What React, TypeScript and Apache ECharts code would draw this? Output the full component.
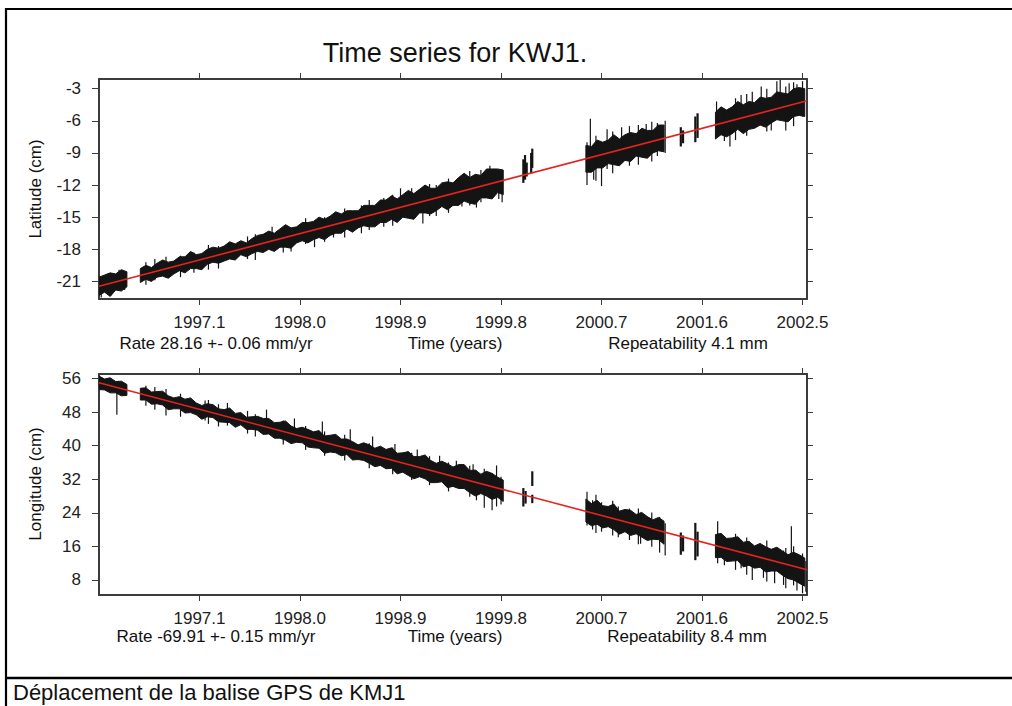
import React, { useEffect, useRef } from "react";
import * as echarts from "echarts";

const FONT = "'Liberation Sans', Arial, Helvetica, sans-serif";

// ---- axes ----
const timeMin = 1996.2;
const timeMax = 2002.54;
const timeTicks = [1997.1, 1998.0, 1998.9, 1999.8, 2000.7, 2001.6, 2002.5];
const latMin = -22.64;
const latMax = -2.1;
const latTicks = [-21, -18, -15, -12, -9, -6, -3];
const lonMin = 4.4;
const lonMax = 57.1;
const lonTicks = [8, 16, 24, 32, 40, 48, 56];

// ---- texts ----
const titleText = "Time series for KWJ1.";
const latRateText = "Rate 28.16 +- 0.06 mm/yr";
const latRepText = "Repeatability 4.1 mm";
const lonRateText = "Rate -69.91 +- 0.15 mm/yr";
const lonRepText = "Repeatability 8.4 mm";
const timeLabel = "Time (years)";
const captionText = "Déplacement de la balise GPS de KMJ1";

// ---- envelopes of the daily solutions (one sample each 0.05 yr) ----
const sampleStep = 0.05;

// Latitude (cm)
const latS1Start = 1996.2;
const latS1Lo = [-22.3, -22.0, -22.4, -21.8, -21.9, -21.5];
const latS1Hi = [-20.6, -20.4, -20.2, -20.3, -19.9, -20.1];
const latS2Start = 1996.57;
const latS2Hi = [
  -19.8, -19.5, -19.7, -19.3, -19.0, -19.2, -19.1, -18.7, -18.7, -18.2,
  -18.5, -18.4, -18.0, -17.8, -17.9, -17.7, -17.3, -17.5, -17.2, -17.4,
  -17.0, -16.7, -16.6, -16.3, -16.5, -16.1, -15.7, -16.0, -15.9, -15.5,
  -15.5, -15.4, -15.0, -15.2, -14.9, -14.5, -14.7, -14.4, -14.4, -14.4,
  -13.9, -13.9, -13.9, -13.4, -13.4, -13.0, -13.3, -12.9, -12.5, -12.8,
  -12.4, -12.0, -12.3, -12.3, -11.8, -11.7, -11.8, -11.3, -10.9, -11.3,
  -11.0, -11.1, -10.5, -10.5, -10.5, -10.6,
];
const latS2Lo = [
  -21.1, -20.8, -21.0, -20.6, -20.5, -20.7, -20.3, -20.0, -20.2, -19.8,
  -19.8, -19.9, -19.4, -19.2, -19.3, -19.1, -18.9, -19.0, -18.5, -18.7,
  -18.4, -18.2, -18.3, -18.0, -18.2, -17.8, -17.8, -17.9, -17.4, -17.2,
  -17.4, -17.1, -16.9, -17.1, -16.7, -16.5, -16.5, -16.1, -16.4, -16.0,
  -15.8, -15.9, -15.9, -15.5, -15.5, -15.2, -15.5, -15.0, -15.1, -15.2,
  -14.6, -14.6, -14.7, -14.4, -14.0, -14.3, -13.9, -13.9, -13.5, -13.7,
  -13.8, -13.2, -13.2, -13.3, -12.7, -12.9,
];
const latS3Start = 2000.56;
const latS3Hi = [-8.3, -8.4, -7.8, -8.0, -7.8, -7.3, -7.7, -7.3, -7.1, -7.2, -6.7, -6.9, -6.9, -6.4, -6.4];
const latS3Lo = [-10.8, -10.8, -10.4, -10.4, -10.0, -10.1, -10.2, -9.7, -9.8, -9.3, -9.4, -9.5, -9.0, -8.8, -8.9];
const latS4Start = 2001.72;
const latS4Hi = [-5.2, -4.7, -5.0, -4.7, -4.2, -4.5, -4.2, -4.3, -3.8, -3.9, -3.8, -3.3, -3.4, -3.5, -3.0, -2.9, -3.0];
const latS4Lo = [-7.7, -7.3, -7.5, -7.2, -6.8, -7.2, -6.8, -6.7, -6.4, -6.6, -6.2, -5.9, -6.0, -6.1, -5.6, -5.5, -5.6];

// outlying daily solutions [time, low, high]
const latSpikeT = [
  1996.22, 1996.31, 1996.38, 1996.43, 1996.62, 1996.7, 1996.8, 1996.93, 1997.05, 1997.18,
  1997.27, 1997.4, 1997.53, 1997.6, 1997.75, 1997.85, 1997.92, 1998.05, 1998.13, 1998.22,
  1998.3, 1998.4, 1998.55, 1998.62, 1998.75, 1998.83, 1998.9, 1999.0, 1999.1, 1999.16,
  1999.22, 1999.33, 1999.45, 1999.52, 1999.58, 1999.62, 1999.7, 1999.78, 1999.81, 2000.57,
  2000.6, 2000.63, 2000.65, 2000.7, 2000.75, 2000.8, 2000.88, 2000.95, 2001.03, 2001.1,
  2001.15, 2001.2, 2001.27, 2001.73, 2001.8, 2001.85, 2001.9, 2001.95, 2002.0, 2002.05,
  2002.13, 2002.18, 2002.22, 2002.27, 2002.3, 2002.35, 2002.38, 2002.42, 2002.45, 2002.5,
];
const latSpikeLo = [
  -22.5, -22.3, -21.6, -21.8, -21.3, -20.9, -20.6, -20.6, -20.2, -19.9,
  -19.8, -19.0, -18.9, -19.0, -18.0, -18.3, -18.2, -17.5, -17.8, -17.3,
  -16.9, -16.9, -16.5, -16.2, -15.9, -15.8, -14.9, -15.1, -15.6, -14.9,
  -14.9, -14.6, -14.0, -13.9, -14.1, -13.6, -13.0, -13.3, -13.6, -12.0,
  -10.8, -11.5, -11.6, -12.1, -10.5, -10.9, -9.5, -10.2, -10.1, -9.0,
  -9.8, -9.3, -9.0, -7.5, -7.9, -8.4, -7.8, -6.9, -7.4, -6.5,
  -5.8, -7.0, -6.9, -5.5, -5.2, -6.9, -5.7, -6.5, -5.0, -5.6,
];
const latSpikeHi = [
  -21.0, -20.5, -19.9, -20.6, -19.2, -18.9, -18.7, -18.6, -18.3, -17.6,
  -17.7, -17.4, -16.8, -16.6, -15.9, -16.0, -16.4, -15.1, -15.7, -15.0,
  -14.8, -14.2, -13.9, -13.4, -13.2, -12.9, -12.3, -12.3, -12.8, -11.9,
  -12.0, -11.4, -11.5, -10.7, -11.1, -10.6, -10.2, -10.6, -11.0, -8.0,
  -5.8, -9.0, -7.4, -9.5, -6.8, -7.0, -6.6, -6.5, -6.4, -6.3,
  -6.1, -6.2, -6.0, -4.2, -5.0, -5.5, -3.9, -3.6, -3.5, -3.3,
  -2.8, -3.0, -3.9, -2.3, -2.2, -2.8, -2.5, -2.4, -2.6, -2.3,
];
const latShortT = [2000.0, 2000.015, 2000.03, 2000.07, 2000.08, 2001.41, 2001.43, 2001.54, 2001.56];
const latShortLo = [-11.8, -11.5, -11.2, -10.9, -10.4, -8.4, -8.1, -8.0, -7.6];
const latShortHi = [-9.6, -9.2, -9.9, -9.0, -8.6, -6.6, -6.9, -5.6, -5.3];

const latFitT = [1996.2, 2002.54];
const latFitV = [-21.45, -4.14];

// Longitude (cm)
const lonS1Start = 1996.2;
const lonS1Hi = [56.6, 55.9, 56.2, 55.3, 55.4, 54.6];
const lonS1Lo = [53.4, 53.3, 52.6, 52.6, 51.9, 52.0];
const lonS2Start = 1996.57;
const lonS2Hi = [
  53.7, 53.8, 52.8, 52.9, 53.0, 51.9, 51.4, 51.7, 51.1, 51.4,
  50.2, 49.6, 50.0, 49.8, 48.8, 48.6, 49.0, 47.7, 47.9, 46.8,
  46.9, 47.0, 46.5, 46.5, 45.5, 45.6, 45.9, 44.7, 44.1, 44.4,
  43.9, 43.3, 43.6, 42.3, 42.5, 42.7, 41.6, 41.6, 41.0, 40.2,
  40.7, 40.2, 39.4, 39.9, 39.1, 39.5, 38.2, 38.3, 38.6, 37.4,
  37.4, 37.8, 36.5, 35.8, 36.3, 35.7, 34.9, 35.5, 35.5, 34.1,
  34.2, 33.2, 33.9, 33.4, 32.5, 31.8,
];
const lonS2Lo = [
  50.9, 50.9, 49.9, 50.0, 49.7, 48.6, 48.8, 48.8, 47.8, 47.9,
  47.4, 46.3, 46.9, 46.7, 45.7, 45.6, 45.5, 44.4, 45.0, 43.9,
  43.9, 43.7, 42.7, 42.8, 41.8, 41.8, 41.3, 40.5, 40.8, 40.7,
  39.7, 39.5, 39.4, 38.2, 38.5, 38.3, 37.6, 37.9, 36.6, 36.7,
  36.5, 35.8, 35.0, 35.3, 34.5, 34.6, 33.3, 33.7, 32.9, 32.1,
  32.6, 32.1, 31.2, 31.2, 31.4, 30.0, 30.3, 29.8, 29.8, 28.8,
  28.0, 28.6, 28.0, 27.2, 27.7, 26.7,
];
const lonS3Start = 2000.56;
const lonS3Hi = [27.3, 26.2, 27.0, 25.7, 25.5, 26.1, 24.4, 24.8, 24.6, 23.6, 24.1, 23.1, 22.3, 22.9, 22.0];
const lonS3Lo = [21.8, 20.9, 21.3, 20.4, 20.7, 20.0, 18.9, 19.5, 18.6, 19.0, 18.2, 17.4, 17.7, 17.6, 16.5];
const lonS4Start = 2001.72;
const lonS4Hi = [18.8, 19.1, 17.9, 18.0, 18.3, 17.0, 17.2, 16.1, 16.7, 15.9, 15.3, 15.8, 14.9, 14.0, 14.6, 14.0, 13.2];
const lonS4Lo = [13.3, 13.4, 12.4, 12.5, 12.6, 11.1, 11.5, 10.8, 11.0, 9.9, 10.1, 10.1, 9.1, 8.3, 8.0, 7.2, 6.5];

const lonSpikeT = [
  1996.36, 1996.62, 1996.7, 1996.8, 1996.93, 1997.15, 1997.18, 1997.27, 1997.35, 1997.53,
  1997.6, 1997.7, 1997.85, 1997.95, 1998.05, 1998.2, 1998.22, 1998.4, 1998.45, 1998.62,
  1998.65, 1998.83, 1998.85, 1999.0, 1999.05, 1999.16, 1999.25, 1999.33, 1999.4, 1999.52,
  1999.55, 1999.58, 1999.65, 1999.72, 1999.76, 1999.8, 2000.57, 2000.62, 2000.65, 2000.7,
  2000.8, 2000.85, 2000.95, 2001.03, 2001.05, 2001.15, 2001.22, 2001.27, 2001.74, 2001.8,
  2001.9, 2001.95, 2002.0, 2002.05, 2002.15, 2002.18, 2002.25, 2002.33, 2002.35, 2002.4,
  2002.42, 2002.45, 2002.5, 2002.53,
];
const lonSpikeLo = [
  47.4, 49.5, 48.6, 47.2, 46.9, 46.0, 45.2, 44.6, 44.8, 42.9,
  42.2, 43.0, 40.3, 41.2, 39.0, 40.0, 37.6, 36.5, 37.5, 34.6,
  37.8, 33.2, 34.5, 31.8, 33.5, 30.6, 32.0, 29.1, 30.6, 27.8,
  29.2, 27.0, 25.2, 24.6, 25.5, 26.0, 21.0, 20.0, 19.2, 19.5,
  18.6, 18.2, 17.5, 16.5, 16.6, 15.9, 14.5, 13.8, 12.0, 11.5,
  10.4, 10.8, 9.2, 8.0, 8.5, 7.6, 7.2, 6.8, 6.0, 9.0,
  6.7, 5.5, 4.8, 5.2,
];
const lonSpikeHi = [
  53.0, 54.3, 54.0, 53.5, 52.4, 50.8, 50.9, 49.9, 50.2, 48.3,
  47.5, 48.6, 46.0, 46.5, 44.7, 45.8, 43.4, 42.6, 43.9, 40.6,
  42.2, 39.6, 40.4, 38.3, 39.1, 37.5, 37.6, 36.0, 36.4, 35.2,
  35.6, 34.1, 34.5, 33.5, 35.3, 32.6, 29.0, 27.0, 28.3, 26.5,
  26.9, 25.5, 25.0, 25.0, 24.0, 24.1, 23.0, 21.5, 22.0, 17.5,
  19.0, 17.0, 18.1, 15.5, 16.2, 17.4, 14.5, 15.0, 15.6, 20.8,
  16.0, 13.5, 14.3, 12.5,
];
const lonShortT = [2000.0, 2000.02, 2000.08, 2000.08, 2001.41, 2001.43, 2001.54, 2001.56];
const lonShortLo = [25.5, 26.2, 26.3, 30.4, 14.0, 14.8, 12.7, 13.6];
const lonShortHi = [29.9, 29.2, 28.3, 33.9, 19.3, 18.6, 21.6, 19.5];

const lonFitT = [1996.2, 2002.54];
const lonFitV = [55.0, 10.43];

type Seg = { start: number; lo: number[]; hi: number[] };

const latSegs: Seg[] = [
  { start: latS1Start, lo: latS1Lo, hi: latS1Hi },
  { start: latS2Start, lo: latS2Lo, hi: latS2Hi },
  { start: latS3Start, lo: latS3Lo, hi: latS3Hi },
  { start: latS4Start, lo: latS4Lo, hi: latS4Hi },
];
const lonSegs: Seg[] = [
  { start: lonS1Start, lo: lonS1Lo, hi: lonS1Hi },
  { start: lonS2Start, lo: lonS2Lo, hi: lonS2Hi },
  { start: lonS3Start, lo: lonS3Lo, hi: lonS3Hi },
  { start: lonS4Start, lo: lonS4Lo, hi: lonS4Hi },
];

const BAND = "#141414";
const FIT = "#e3231f";
const AXIS = "#3c3c3c";

function bandSeries(segs: Seg[], idx: number) {
  return {
    type: "custom",
    xAxisIndex: idx * 2,
    yAxisIndex: idx * 2,
    silent: true,
    clip: true,
    z: 2,
    data: segs.map((s, i) => [s.start, s.lo[0], i]),
    encode: { x: 0, y: 1 },
    renderItem: (_p: any, api: any) => {
      const s = segs[api.value(2)];
      const top = s.hi.map((v, k) => api.coord([s.start + k * sampleStep, v]));
      const bot = s.lo.map((v, k) => api.coord([s.start + k * sampleStep, v])).reverse();
      return {
        type: "polygon",
        shape: { points: top.concat(bot) },
        style: { fill: BAND, stroke: BAND, lineWidth: 1 },
      };
    },
  };
}

function barSeries(t: number[], lo: number[], hi: number[], idx: number, width: number) {
  return {
    type: "custom",
    xAxisIndex: idx * 2,
    yAxisIndex: idx * 2,
    silent: true,
    clip: true,
    z: 3,
    data: t.map((v, i) => [v, lo[i], hi[i]]),
    encode: { x: 0, y: [1, 2] },
    renderItem: (_p: any, api: any) => {
      const a = api.coord([api.value(0), api.value(1)]);
      const b = api.coord([api.value(0), api.value(2)]);
      return {
        type: "line",
        shape: { x1: a[0], y1: a[1], x2: b[0], y2: b[1] },
        style: { stroke: BAND, lineWidth: width },
      };
    },
  };
}

function fitSeries(t: number[], v: number[], idx: number) {
  return {
    type: "line",
    xAxisIndex: idx * 2,
    yAxisIndex: idx * 2,
    silent: true,
    z: 5,
    showSymbol: false,
    symbol: "none",
    data: t.map((x, i) => [x, v[i]]),
    lineStyle: { color: FIT, width: 1.6 },
  };
}

function xAxes(gridIndex: number) {
  const common = {
    gridIndex,
    type: "value",
    min: timeMin,
    max: timeMax,
    splitLine: { show: false },
    axisLine: { show: true, onZero: false, lineStyle: { color: AXIS, width: 2 } },
  };
  return [
    {
      ...common,
      position: "bottom",
      axisTick: { show: true, length: 6, customValues: timeTicks, lineStyle: { color: AXIS, width: 1 } },
      axisLabel: {
        show: true,
        customValues: timeTicks,
        formatter: (v: number) => v.toFixed(1),
        fontSize: 17,
        lineHeight: 17,
        fontFamily: FONT,
        color: "#222",
        margin: 15,
      },
    },
    {
      ...common,
      position: "top",
      axisTick: { show: true, length: 6, customValues: timeTicks, lineStyle: { color: AXIS, width: 1 } },
      axisLabel: { show: false },
    },
  ];
}

function yAxes(gridIndex: number, min: number, max: number, ticks: number[]) {
  const common = {
    gridIndex,
    type: "value",
    min,
    max,
    splitLine: { show: false },
    axisLine: { show: true, onZero: false, lineStyle: { color: AXIS, width: 2 } },
  };
  return [
    {
      ...common,
      position: "left",
      axisTick: { show: true, length: 7, customValues: ticks, lineStyle: { color: AXIS, width: 1 } },
      axisLabel: {
        show: true,
        customValues: ticks,
        formatter: (v: number) => String(v),
        fontSize: 17,
        fontFamily: FONT,
        color: "#222",
        margin: 18,
      },
    },
    {
      ...common,
      position: "right",
      axisTick: { show: true, length: 6, customValues: ticks, lineStyle: { color: AXIS, width: 1 } },
      axisLabel: { show: false },
    },
  ];
}

function txt(text: string, x: number, y: number, size: number, align = "center", rotation = 0) {
  return {
    type: "text",
    x,
    y,
    rotation,
    silent: true,
    z: 10,
    style: {
      text,
      fontSize: size,
      lineHeight: size,
      fontFamily: FONT,
      fill: "#111",
      align,
      verticalAlign: "middle",
    },
  };
}

export default function App() {
  const ref = useRef<HTMLDivElement>(null);
  useEffect(() => {
    if (!ref.current) return;
    const chart = echarts.init(ref.current, undefined, { renderer: "svg" });
    chart.setOption({
      animation: false,
      backgroundColor: "#ffffff",
      textStyle: { fontFamily: FONT },
      grid: [
        { left: 99, top: 79, width: 708, height: 220, containLabel: false },
        { left: 99, top: 374, width: 708, height: 221, containLabel: false },
      ],
      xAxis: [...xAxes(0), ...xAxes(1)],
      yAxis: [...yAxes(0, latMin, latMax, latTicks), ...yAxes(1, lonMin, lonMax, lonTicks)],
      series: [
        bandSeries(latSegs, 0),
        barSeries(latSpikeT, latSpikeLo, latSpikeHi, 0, 1.2),
        barSeries(latShortT, latShortLo, latShortHi, 0, 2.2),
        fitSeries(latFitT, latFitV, 0),
        bandSeries(lonSegs, 1),
        barSeries(lonSpikeT, lonSpikeLo, lonSpikeHi, 1, 1.2),
        barSeries(lonShortT, lonShortLo, lonShortHi, 1, 2.2),
        fitSeries(lonFitT, lonFitV, 1),
      ],
      graphic: [
        {
          type: "rect",
          silent: true,
          shape: { x: 6, y: 9, width: 1030, height: 730 },
          style: { fill: "none", stroke: "#000", lineWidth: 2.2 },
        },
        {
          type: "line",
          silent: true,
          shape: { x1: 6, y1: 678, x2: 1012, y2: 678 },
          style: { stroke: "#000", lineWidth: 2.4 },
        },
        txt(titleText, 455, 53, 27),
        txt(latRateText, 216, 343, 17),
        txt(timeLabel, 455, 343, 17),
        txt(latRepText, 688, 343, 17),
        txt(lonRateText, 216, 636, 17),
        txt(timeLabel, 455, 636, 17),
        txt(lonRepText, 687, 636, 17),
        txt("Latitude (cm)", 35, 189, 17, "center", Math.PI / 2),
        txt("Longitude (cm)", 35, 484, 17, "center", Math.PI / 2),
        txt(captionText, 13, 692, 22, "left"),
      ],
    });
    return () => chart.dispose();
  }, []);
  return (
    <div
      ref={ref}
      style={{ position: "fixed", left: 0, top: 0, width: 1012, height: 706, background: "#fff" }}
    />
  );
}
